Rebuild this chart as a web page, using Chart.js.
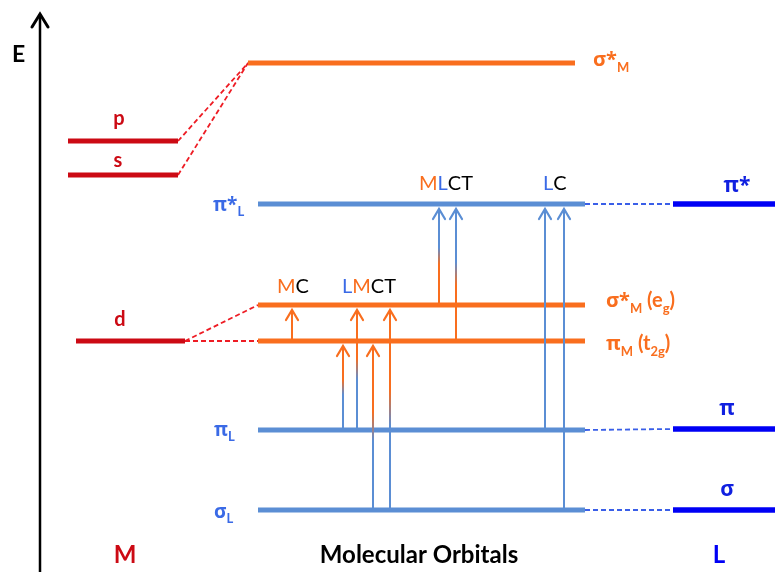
<!DOCTYPE html>
<html><head><meta charset="utf-8">
<script src="https://cdn.jsdelivr.net/npm/chart.js@4.4.1/dist/chart.umd.min.js"></script>
<style>html,body{margin:0;padding:0;background:#fff}#wrap{width:775px;height:572px;position:relative}</style>
</head><body><div id="wrap"><canvas id="c"></canvas></div>
<script>
// ---------- DATA (energies in arbitrary units, higher = higher energy) ----------
const metalNames = ['p', 's', 'd'];
const metalEnergies = [431, 397, 231];

const moNames = ['σ*M', 'π*L', 'σ*M(eg)', 'πM(t2g)', 'πL', 'σL'];
const moEnergies = [509, 368, 267, 231, 142, 62];
const moOwner = ['M', 'L', 'M', 'M', 'L', 'L'];

const ligandNames = ['π*', 'π', 'σ'];
const ligandEnergies = [368, 143, 62];

const metalLinkFrom = ['p', 's', 'd', 'd'];
const metalLinkTo = ['σ*M', 'σ*M', 'σ*M(eg)', 'πM(t2g)'];
const ligandLinkFrom = ['π*', 'π', 'σ'];
const ligandLinkTo = ['π*L', 'πL', 'σL'];

const transitionKind = ['MC', 'LMCT', 'LMCT', 'LMCT', 'LMCT', 'MLCT', 'MLCT', 'LC', 'LC'];
const transitionFrom = ['πM(t2g)', 'πL', 'πL', 'σL', 'σL', 'σ*M(eg)', 'πM(t2g)', 'πL', 'σL'];
const transitionTo = ['σ*M(eg)', 'πM(t2g)', 'σ*M(eg)', 'πM(t2g)', 'σ*M(eg)', 'π*L', 'π*L', 'π*L', 'π*L'];
const transitionPos = [292, 343, 357, 373, 390, 439, 456, 545, 564];

// ---------- LAYOUT / STYLE ----------
const C = {
  red: '#cc0a14', redDash: '#ee1c24', orange: '#f96e1e', moBlue: '#5b8ed4',
  ligBlue: '#0000f5', ligDash: '#3a5fe8', lblBlue: '#3a6ae6', ligLbl: '#1020e0', black: '#000'
};
const metalSpan = { p: [68, 178], s: [68, 178], d: [76, 185] };
const moSpanTop = [248, 575], moSpan = [258, 585];
const ligandSpan = [673, 775];
const axisX = 40, axisTop = 558;
const arrowGap = 5;

const eOf = n => moEnergies[moNames.indexOf(n)];
const datasets = [];

// energy axis
datasets.push({ data: [{ x: axisX, y: 0 }, { x: axisX, y: axisTop }], borderColor: C.black, borderWidth: 2.5,
  arrowHead: true, headColor: C.black, headW: 8, headH: 13, headLW: 3, order: 0 });

// metal levels
metalNames.forEach((n, i) => datasets.push({ data: [{ x: metalSpan[n][0], y: metalEnergies[i] }, { x: metalSpan[n][1], y: metalEnergies[i] }],
  borderColor: C.red, borderWidth: 5, order: 2 }));
// MO levels
moNames.forEach((n, i) => {
  const sp = i === 0 ? moSpanTop : moSpan;
  datasets.push({ data: [{ x: sp[0], y: moEnergies[i] }, { x: sp[1], y: moEnergies[i] }],
    borderColor: moOwner[i] === 'M' ? C.orange : C.moBlue, borderWidth: 5, order: 2 });
});
// ligand levels
ligandNames.forEach((n, i) => datasets.push({ data: [{ x: ligandSpan[0], y: ligandEnergies[i] }, { x: ligandSpan[1], y: ligandEnergies[i] }],
  borderColor: C.ligBlue, borderWidth: 5.5, order: 2 }));
// metal correlation lines
metalLinkFrom.forEach((f, i) => {
  const fi = metalNames.indexOf(f), t = metalLinkTo[i], ti = moNames.indexOf(t);
  const sp = ti === 0 ? moSpanTop : moSpan;
  datasets.push({ data: [{ x: metalSpan[f][1], y: metalEnergies[fi] }, { x: sp[0], y: moEnergies[ti] }],
    borderColor: C.redDash, borderWidth: 1.8, borderDash: [5, 3], order: 3 });
});
// ligand correlation lines
ligandLinkFrom.forEach((f, i) => {
  const fi = ligandNames.indexOf(f), ti = moNames.indexOf(ligandLinkTo[i]);
  datasets.push({ data: [{ x: moSpan[1], y: moEnergies[ti] }, { x: ligandSpan[0], y: ligandEnergies[fi] }],
    borderColor: C.ligDash, borderWidth: 1.8, borderDash: [5, 3], order: 3 });
});
// transitions
const kindColors = { MC: [C.orange, C.orange], LMCT: [C.moBlue, C.orange], MLCT: [C.orange, C.moBlue], LC: [C.moBlue, C.moBlue] };
function grad(c0, c1) {
  return (ctx) => {
    const chart = ctx.chart;
    if (!chart.chartArea || c0 === c1) return c0;
    const ds = chart.data.datasets[ctx.datasetIndex];
    const y = chart.scales.y;
    const p0 = y.getPixelForValue(ds.data[0].y), p1 = y.getPixelForValue(ds.data[1].y);
    const g = chart.ctx.createLinearGradient(0, p0, 0, p1);
    g.addColorStop(0, c0); g.addColorStop(0.42, c0); g.addColorStop(0.6, c1); g.addColorStop(1, c1);
    return g;
  };
}
transitionKind.forEach((k, i) => {
  const [c0, c1] = kindColors[k];
  datasets.push({ data: [{ x: transitionPos[i], y: eOf(transitionFrom[i]) }, { x: transitionPos[i], y: eOf(transitionTo[i]) - arrowGap }],
    borderColor: grad(c0, c1), borderWidth: 2, arrowHead: true, headColor: c1, headW: 6, headH: 10, headLW: 2.2, order: 1 });
});
datasets.forEach(d => { d.showLine = true; d.pointRadius = 0; d.pointHoverRadius = 0; d.borderCapStyle = 'butt'; d.fill = false; d.tension = 0; });

// ---------- TEXT ----------
const S = (t, c, sub) => ({ t, c, sub });
const labels = [
  { x: 12, e: 510, a: 'left', s: 23, b: true, c: C.black, g: [S('E')] },
  { x: 119, e: 447, a: 'center', s: 20, b: true, c: C.red, g: [S('p')] },
  { x: 118, e: 405, a: 'center', s: 20, b: true, c: C.red, g: [S('s')] },
  { x: 120, e: 246, a: 'center', s: 20, b: true, c: C.red, g: [S('d')] },
  { x: 593, e: 506, a: 'left', s: 20, b: true, c: C.orange, g: [S('σ*'), S('M', null, 1)] },
  { x: 213, e: 361, a: 'left', s: 19, b: true, c: C.lblBlue, g: [S('π*'), S('L', null, 1)] },
  { x: 606, e: 265, a: 'left', s: 20, b: true, c: C.orange, g: [S('σ*'), S('M', null, 1), S(' (e'), S('g', null, 1), S(')')] },
  { x: 606, e: 222, a: 'left', s: 20, b: true, c: C.orange, g: [S('π'), S('M', null, 1), S(' (t'), S('2g', null, 1), S(')')] },
  { x: 214, e: 136, a: 'left', s: 19, b: true, c: C.lblBlue, g: [S('π'), S('L', null, 1)] },
  { x: 214, e: 54, a: 'left', s: 19, b: true, c: C.lblBlue, g: [S('σ'), S('L', null, 1)] },
  { x: 737, e: 380, a: 'center', s: 21, b: true, c: C.ligLbl, g: [S('π*')] },
  { x: 727, e: 157, a: 'center', s: 21, b: true, c: C.ligLbl, g: [S('π')] },
  { x: 727, e: 76, a: 'center', s: 21, b: true, c: C.ligLbl, g: [S('σ')] },
  { x: 125, e: 9, a: 'center', s: 24, b: true, c: C.red, g: [S('M')] },
  { x: 419, e: 9, a: 'center', s: 24, b: true, c: C.black, g: [S('Molecular Orbitals')] },
  { x: 719, e: 9, a: 'center', s: 24, b: true, c: C.ligBlue, g: [S('L')] },
  { x: 277, e: 279, a: 'left', s: 20, b: false, c: C.black, g: [S('M', C.orange), S('C')] },
  { x: 342, e: 279, a: 'left', s: 20, b: false, c: C.black, g: [S('L', C.lblBlue), S('M', C.orange), S('CT')] },
  { x: 419, e: 382, a: 'left', s: 20, b: false, c: C.black, g: [S('M', C.orange), S('L', C.lblBlue), S('CT')] },
  { x: 543, e: 382, a: 'left', s: 20, b: false, c: C.black, g: [S('L', C.lblBlue), S('C')] }
];

const arrowPlugin = {
  id: 'arrows',
  afterDatasetsDraw(chart) {
    const ctx = chart.ctx;
    chart.data.datasets.forEach((ds, i) => {
      if (!ds.arrowHead) return;
      const pts = chart.getDatasetMeta(i).data;
      const a = pts[pts.length - 2], b = pts[pts.length - 1];
      const ang = Math.atan2(b.y - a.y, b.x - a.x);
      ctx.save();
      ctx.translate(b.x, b.y); ctx.rotate(ang);
      ctx.strokeStyle = ds.headColor; ctx.lineWidth = ds.headLW; ctx.lineCap = 'round'; ctx.lineJoin = 'miter';
      ctx.beginPath();
      ctx.moveTo(-ds.headH, -ds.headW); ctx.lineTo(0, 0); ctx.lineTo(-ds.headH, ds.headW);
      ctx.stroke();
      ctx.restore();
    });
  }
};
const isGreek = t => /[\u0370-\u03ff]/.test(t);
const textPlugin = {
  id: 'texts',
  afterDraw(chart) {
    const ctx = chart.ctx, xs = chart.scales.x, ys = chart.scales.y;
    labels.forEach(L => {
      const px = xs.getPixelForValue(L.x), py = ys.getPixelForValue(L.e);
      const font = (sz, t) => `${L.b ? 'bold ' : ''}${sz}px ${isGreek(t) ? '"Open Sans", ' : ''}Lato, "Open Sans", sans-serif`;
      const sizeOf = s => s.sub ? Math.round(L.s * 0.66) : L.s;
      let w = 0;
      L.g.forEach(s => { ctx.font = font(sizeOf(s), s.t); w += ctx.measureText(s.t).width; });
      let x = L.a === 'center' ? px - w / 2 : px;
      ctx.save(); ctx.textBaseline = 'alphabetic'; ctx.textAlign = 'left';
      L.g.forEach(s => {
        ctx.font = font(sizeOf(s), s.t); ctx.fillStyle = s.c || L.c;
        ctx.fillText(s.t, x, py + (s.sub ? L.s * 0.28 : 0));
        x += ctx.measureText(s.t).width;
      });
      ctx.restore();
    });
  }
};

new Chart(document.getElementById('c'), {
  type: 'scatter',
  data: { datasets },
  options: {
    responsive: true, maintainAspectRatio: false, animation: false,
    layout: { padding: 0 },
    plugins: { legend: { display: false }, tooltip: { enabled: false } },
    events: [],
    scales: {
      x: { type: 'linear', min: 0, max: 775, display: false },
      y: { type: 'linear', min: 0, max: 572, display: false }
    }
  },
  plugins: [arrowPlugin, textPlugin]
});
</script></body></html>
